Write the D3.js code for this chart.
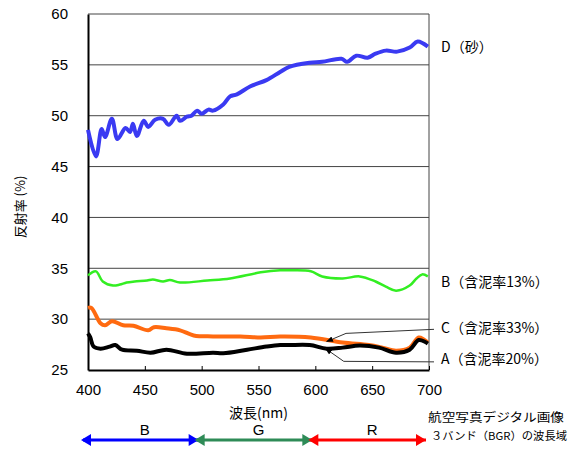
<!DOCTYPE html>
<html>
<head>
<meta charset="utf-8">
<script src="https://cdn.jsdelivr.net/npm/d3@7"></script>
<style>
  body { margin: 0; background: #fff; }
  text { font-family: "Liberation Sans", Arial, "Noto Sans CJK JP", sans-serif; }
  .jp { font-family: "Noto Sans CJK JP", sans-serif; }
</style>
</head>
<body>
<div id="chart"></div>
<script>
const width = 575, height = 450;

const xTicks = [400, 450, 500, 550, 600, 650, 700];
const yTicks = [25, 30, 35, 40, 45, 50, 55, 60];

// D (sand)
const dNm  = [400, 407, 412, 415, 421, 426, 433, 437, 439.5, 443, 449, 453, 459, 466, 471, 478, 481, 487, 491, 496, 500, 506, 510, 519, 525, 531, 543, 557, 569, 577, 595, 606, 623, 628, 636, 646, 653, 662, 672, 683, 690, 699];
const dVal = [48.6, 46.0, 48.7, 47.9, 49.7, 47.7, 48.8, 48.4, 49.2, 48.0, 49.5, 48.9, 49.6, 49.7, 49.1, 50.0, 49.5, 49.9, 50.0, 50.5, 50.2, 50.6, 50.5, 51.1, 51.9, 52.1, 52.9, 53.5, 54.3, 54.8, 55.2, 55.3, 55.6, 55.3, 55.9, 55.7, 56.1, 56.4, 56.3, 56.7, 57.3, 56.8];

// B (mud 13%)
const bNm  = [400, 407, 413, 422, 428, 434, 441, 452, 457, 466, 472, 481, 505, 525, 552, 569, 580, 596, 606, 624, 639, 653, 662, 671, 683, 689, 694, 699];
const bVal = [34.3, 34.7, 33.7, 33.3, 33.4, 33.6, 33.7, 33.8, 33.9, 33.7, 33.85, 33.6, 33.8, 34.0, 34.6, 34.8, 34.8, 34.7, 34.2, 34.0, 34.2, 33.7, 33.2, 32.8, 33.3, 34.0, 34.4, 34.2];

// C (mud 33%)
const cNm  = [400, 403, 411, 415, 421, 431, 440, 453, 458, 469, 481, 493, 510, 534, 552, 569, 596, 624, 647, 659, 671, 683, 691, 699];
const cVal = [31.1, 31.1, 29.6, 29.4, 29.8, 29.4, 29.35, 28.9, 29.2, 29.1, 28.9, 28.4, 28.3, 28.3, 28.2, 28.3, 28.2, 27.7, 27.45, 27.2, 26.9, 27.2, 28.2, 27.7];

// A (mud 20%)
const aNm  = [400, 402, 405, 411, 419, 424, 430, 443, 455, 469, 487, 510, 519, 540, 557, 569, 577, 595, 610, 624, 639, 656, 671, 683, 691, 699];
const aVal = [28.6, 28.2, 27.3, 27.1, 27.3, 27.45, 27.0, 26.9, 26.7, 27.0, 26.6, 26.7, 26.65, 27.0, 27.3, 27.45, 27.45, 27.45, 27.1, 27.2, 27.4, 27.2, 26.7, 27.0, 27.95, 27.6];

const series = [
  { nm: bNm, val: bVal, color: "#33ee22", w: 2.5 },
  { nm: cNm, val: cVal, color: "#ff6a10", w: 4 },
  { nm: aNm, val: aVal, color: "#000000", w: 4 },
  { nm: dNm, val: dVal, color: "#3a3af2", w: 4 }
];

const bands = [
  { label: "B", from: 400, to: 500, color: "#0000ff" },
  { label: "G", from: 500, to: 600, color: "#2e8b57" },
  { label: "R", from: 600, to: 700, color: "#ff0000" }
];

const margin = { left: 88, right: 146, top: 14, bottom: 80 };

const svg = d3.select("#chart")
  .append("svg")
  .attr("width", width)
  .attr("height", height);

const x = d3.scaleLinear().domain([400, 700]).range([margin.left, width - margin.right]);
const y = d3.scaleLinear().domain([25, 60]).range([height - margin.bottom, margin.top]);

// grid
svg.append("g")
  .selectAll("line")
  .data(yTicks.slice(1))
  .enter()
  .append("line")
  .attr("x1", x(400)).attr("x2", x(700))
  .attr("y1", d => y(d)).attr("y2", d => y(d))
  .style("stroke", "#444")
  .style("stroke-width", 1);

// right border
svg.append("line")
  .attr("x1", x(700)).attr("x2", x(700))
  .attr("y1", y(60)).attr("y2", y(25))
  .style("stroke", "#444");

// axes
const xAxis = svg.append("g")
  .attr("transform", `translate(0,${y(25)})`)
  .call(d3.axisBottom(x).tickValues(xTicks).tickSizeInner(-4).tickSizeOuter(0).tickPadding(14));
xAxis.select(".domain").style("stroke-width", 2);
xAxis.selectAll("text").style("font-size", "15px").style("fill", "#000");

const yAxis = svg.append("g")
  .attr("transform", `translate(${x(400)},0)`)
  .call(d3.axisLeft(y).tickValues(yTicks).tickSize(0).tickPadding(20));
yAxis.select(".domain").style("stroke-width", 2);
yAxis.selectAll("text").style("font-size", "15px").style("fill", "#000");

// lines
const line = d3.line().curve(d3.curveCatmullRom);
svg.append("g")
  .selectAll("path")
  .data(series)
  .enter()
  .append("path")
  .attr("d", s => line(s.nm.map((n, i) => [x(n), y(s.val[i])])))
  .style("fill", "none")
  .style("stroke", s => s.color)
  .style("stroke-width", s => s.w)
  .style("stroke-linejoin", "round");

// axis titles
svg.append("text")
  .attr("class", "jp")
  .attr("transform", `translate(25,207) rotate(-90)`)
  .attr("text-anchor", "middle")
  .style("font-size", "13px")
  .text("反射率 (%)");

svg.append("text")
  .attr("class", "jp")
  .attr("x", (x(400) + x(700)) / 2)
  .attr("y", 418)
  .attr("text-anchor", "middle")
  .style("font-size", "14px")
  .text("波長(nm)");

// labels
const labels = [
  { t: "D（砂）", v: 56.8 },
  { t: "B（含泥率13%）", v: 33.7 },
  { t: "C（含泥率33%）", v: 29.1 },
  { t: "A（含泥率20%）", v: 26.1 }
];
svg.append("g")
  .selectAll("text")
  .data(labels)
  .enter()
  .append("text")
  .attr("class", "jp")
  .attr("x", 441)
  .attr("y", d => y(d.v) + 5)
  .style("font-size", "14px")
  .text(d => d.t);

// callout arrows
svg.append("defs").append("marker")
  .attr("id", "ah")
  .attr("viewBox", "0 0 10 10")
  .attr("refX", 9).attr("refY", 5)
  .attr("markerWidth", 7).attr("markerHeight", 7)
  .attr("orient", "auto")
  .append("path").attr("d", "M0,1 L10,5 L0,9 Z").attr("fill", "#000");

const callouts = [
  [[434, y(29.0)], [x(627), y(28.6)], [x(610), y(27.8)]],
  [[434, y(25.8)], [x(625), y(25.85)], [x(609), y(27.1)]]
];
svg.append("g")
  .selectAll("path")
  .data(callouts)
  .enter()
  .append("path")
  .attr("d", d => d3.line()(d))
  .style("fill", "none")
  .style("stroke", "#333")
  .style("stroke-width", 1)
  .attr("marker-end", "url(#ah)");

// band arrows
const bandY = 440;
const bandG = svg.append("g").selectAll("g").data(bands).enter().append("g");
bandG.append("line")
  .attr("x1", d => x(d.from) - 5).attr("x2", d => x(d.to) - 3)
  .attr("y1", bandY).attr("y2", bandY)
  .style("stroke", d => d.color)
  .style("stroke-width", 3);
bandG.append("path")
  .attr("d", d => {
    const a = x(d.from) - 7, b = x(d.to) - 3;
    return `M${a},${bandY} L${a + 10},${bandY - 6} L${a + 10},${bandY + 6} Z M${b},${bandY} L${b - 10},${bandY - 6} L${b - 10},${bandY + 6} Z`;
  })
  .style("fill", d => d.color);
bandG.append("text")
  .attr("x", d => (x(d.from) + x(d.to)) / 2)
  .attr("y", bandY - 5)
  .attr("text-anchor", "middle")
  .style("font-size", "15px")
  .text(d => d.label);

svg.append("text")
  .attr("class", "jp")
  .attr("x", 428).attr("y", 422)
  .attr("textLength", 136)
  .attr("lengthAdjust", "spacingAndGlyphs")
  .style("font-size", "12px")
  .text("航空写真デジタル画像");
svg.append("text")
  .attr("class", "jp")
  .attr("x", 431).attr("y", 440)
  .attr("textLength", 136)
  .attr("lengthAdjust", "spacingAndGlyphs")
  .style("font-size", "11px")
  .text("３バンド（BGR）の波長域");
</script>
</body>
</html>
